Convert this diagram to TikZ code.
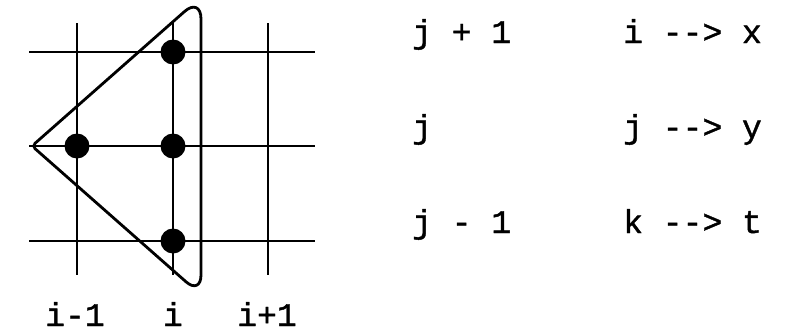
\documentclass[tikz,border=0pt]{standalone}
\usepackage{fontspec}
\setmonofont[FakeBold=1.2,AutoFakeBold=false]{Liberation Mono}
\begin{document}
\begin{tikzpicture}[x=1pt,y=-1pt,
  grid/.style={line width=2pt,black},
  dot/.style={circle,fill=black,inner sep=0pt,minimum size=25pt},
  lbl/.style={font=\ttfamily\fontsize{33}{33}\selectfont,inner sep=0pt,anchor=base west},
  blbl/.style={font=\ttfamily\fontsize{33}{33}\selectfont,inner sep=0pt,anchor=base}]
\useasboundingbox (0,0) rectangle (791,332);
% grid
\coordinate (h1a) at (29,52);  \coordinate (h1b) at (315,52);
\coordinate (h2a) at (29,146); \coordinate (h2b) at (315,146);
\coordinate (h3a) at (29,241); \coordinate (h3b) at (315,241);
\coordinate (v1a) at (77,23);  \coordinate (v1b) at (77,275);
\coordinate (v2a) at (173,23); \coordinate (v2b) at (173,275);
\coordinate (v3a) at (268,23); \coordinate (v3b) at (268,275);
\draw[grid] (h1a) -- (h1b);
\draw[grid] (h2a) -- (h2b);
\draw[grid] (h3a) -- (h3b);
\draw[grid] (v1a) -- (v1b);
\draw[grid] (v2a) -- (v2b);
\draw[grid] (v3a) -- (v3b);
% stencil outline
\coordinate (sR) at (201,120);
\coordinate (sB) at (201,295);
\coordinate (sL) at (32,146);
\coordinate (sT) at (201,-3);
\draw[line width=2.8pt,line join=round]
  (sR) [rounded corners=20pt] -- (sB) [rounded corners=4pt] -- (sL)
  [rounded corners=22pt] -- (sT) [sharp corners] -- cycle;
% dots
\node[dot] (d1) at (77,146) {};
\node[dot] (d2) at (173,52) {};
\node[dot] (d3) at (173,146) {};
\node[dot] (d4) at (173,241) {};
% bottom labels
\node[blbl] (b1) at (75,326) {i-1};
\node[blbl] (b2) at (173,326) {i};
\node[blbl] (b3) at (267,326) {i+1};
% right labels
\node[lbl] (r1) at (412,43) {j + 1};
\node[lbl] (r2) at (412,138) {j};
\node[lbl] (r3) at (412,233) {j - 1};
\node[lbl] (m1) at (623,43) {i --> x};
\node[lbl] (m2) at (623,138) {j --> y};
\node[lbl] (m3) at (623,233) {k --> t};
\end{tikzpicture}
\end{document}
